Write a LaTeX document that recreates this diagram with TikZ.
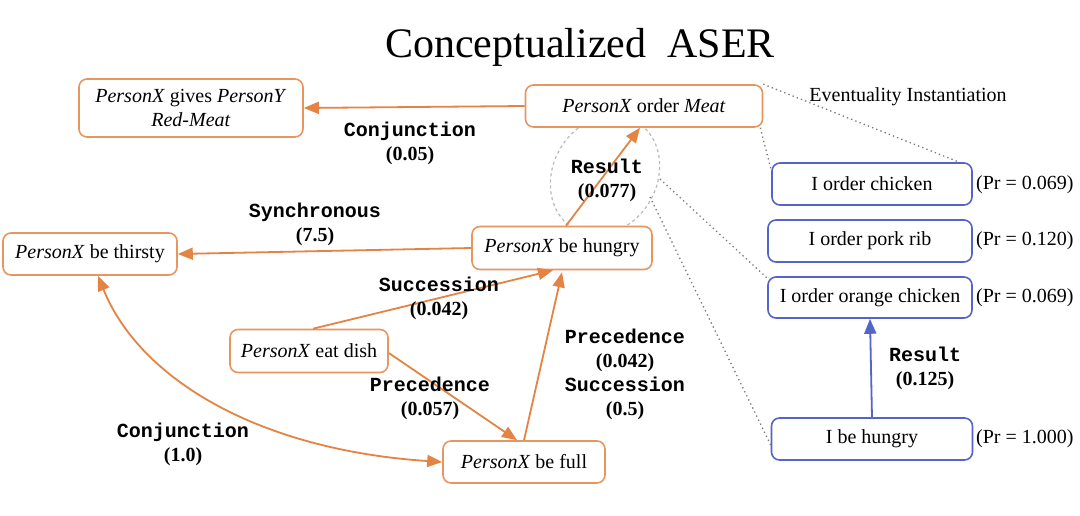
\documentclass[tikz,border=0pt]{standalone}
\usepackage{fontspec}
\setmainfont{Liberation Serif}
\setmonofont{Liberation Mono}
\usetikzlibrary{arrows.meta,calc}
\definecolor{oc}{RGB}{228,132,68}
\definecolor{ob}{RGB}{232,150,95}
\definecolor{bc}{RGB}{85,100,200}
\definecolor{dg}{RGB}{120,120,120}
\definecolor{eg}{RGB}{185,185,185}
\begin{document}
\begin{tikzpicture}[x=1pt,y=-1pt,
  txt/.style={font=\fontsize{20}{24}\selectfont, inner sep=0pt},
  obox/.style={draw=ob, line width=1.6pt, rounded corners=8pt, fill=white, inner sep=0pt, align=center, font=\fontsize{20}{24}\selectfont},
  bbox/.style={draw=bc, line width=1.6pt, rounded corners=8pt, fill=white, inner sep=0pt, align=center, font=\fontsize{20}{24}\selectfont},
  lbl/.style={font=\ttfamily\bfseries\fontsize{20}{24}\selectfont, align=center, inner sep=0pt},
  oarr/.style={draw=oc, line width=1.8pt, -{Triangle[length=15pt,width=12pt]}},
  barr/.style={draw=bc, line width=1.8pt, -{Triangle[length=15pt,width=12pt]}},
  dotl/.style={draw=dg, line width=1.3pt, dash pattern=on 1.3pt off 3.2pt},
]
\useasboundingbox (0,0) rectangle (1080,516);
\fill[white] (0,0) rectangle (1080,516);

% title
\node[font=\fontsize{42}{48}\selectfont, anchor=base, inner sep=0pt] (title) at (580,58) {Conceptualized~~ASER};

% ellipse around Result edge
\draw[eg, dashed, line width=1.2pt, rotate around={60:(605,175)}] (605,175) ellipse [x radius=62, y radius=52];
\coordinate (e1) at (660,179);
\coordinate (e2) at (650,197);

% orange nodes
\node[obox, minimum width=224, minimum height=58] (gives) at (191,108) {\textit{PersonX} gives \textit{PersonY}\\\textit{Red-Meat}};
\node[obox, minimum width=237, minimum height=42] (meat) at (644,106) {\textit{PersonX} order \textit{Meat}};
\node[obox, minimum width=174, minimum height=42] (thirsty) at (90,254) {\textit{PersonX} be thirsty};
\node[obox, minimum width=180, minimum height=43] (hungry) at (562,248) {\textit{PersonX} be hungry};
\node[obox, minimum width=158, minimum height=43] (eat) at (309,351) {\textit{PersonX} eat dish};
\node[obox, minimum width=162, minimum height=42] (full) at (524,462) {\textit{PersonX} be full};

% blue nodes
\node[bbox, minimum width=200, minimum height=42] (chicken) at (872,184) {I order chicken};
\node[bbox, minimum width=204, minimum height=42] (pork) at (870,241) {I order pork rib};
\node[bbox, minimum width=204, minimum height=41] (orange) at (870,297.5) {I order orange chicken};
\node[bbox, minimum width=201, minimum height=42] (ih) at (872,439) {I be hungry};

% probability labels
\node[txt, anchor=west] (p1) at (976,185) {(Pr = 0.069)};
\node[txt, anchor=west] (p2) at (976,241) {(Pr = 0.120)};
\node[txt, anchor=west] (p3) at (976,298) {(Pr = 0.069)};
\node[txt, anchor=west] (p4) at (976,439) {(Pr = 1.000)};
\node[txt] (evi) at (908,97) {Eventuality Instantiation};

% dotted instantiation lines
\coordinate (d1) at ($(chicken.north east)+(-16,-1)$);
\draw[dotl] (meat.north east) -- (d1);
\draw[dotl] ($(meat.south east)+(-3,0)$) -- ($(chicken.north west)+(0,8)$);
\draw[dotl] (e1) -- ($(orange.north west)+(0,2)$);
\draw[dotl] (e2) -- ($(ih.west)+(0,6)$);

% orange edges
\draw[oarr] (meat.west) -- (gives.east);
\draw[oarr] (hungry.west) -- (thirsty.east);
\draw[oarr] ($(hungry.north)+(4,0)$) -- ($(meat.south)+(-4,0)$);
\draw[oarr] ($(eat.north)+(4,0)$) -- ($(hungry.south)+(-9,0)$);
\draw[oarr] ($(eat.east)+(0,2)$) -- ($(full.north)+(-7,0)$);
\draw[oarr] (full.north) -- ($(hungry.south)+(0,2)$);
\draw[draw=oc, line width=1.8pt, {Triangle[length=15pt,width=12pt]}-{Triangle[length=15pt,width=12pt]}] ($(thirsty.south)+(8,0)$) .. controls (140,380) and (260,450) .. (full.west);

% blue edge
\draw[barr] (ih.north) -- (orange.south);

% edge labels
\node[lbl] (l1) at (410,143) {Conjunction\\\textrm{(0.05)}};
\node[lbl] (l2) at (315,224) {Synchronous\\\textrm{(7.5)}};
\node[lbl] (l3) at (607,180) {Result\\\textrm{(0.077)}};
\node[lbl] (l4) at (439,298) {Succession\\\textrm{(0.042)}};
\node[lbl] (l5) at (430,398) {Precedence\\\textrm{(0.057)}};
\node[lbl] (l6) at (625,374) {Precedence\\\textrm{(0.042)}\\Succession\\\textrm{(0.5)}};
\node[lbl] (l7) at (183,444) {Conjunction\\\textrm{(1.0)}};
\node[lbl] (l8) at (925,368) {Result\\\textrm{(0.125)}};
\end{tikzpicture}
\end{document}
